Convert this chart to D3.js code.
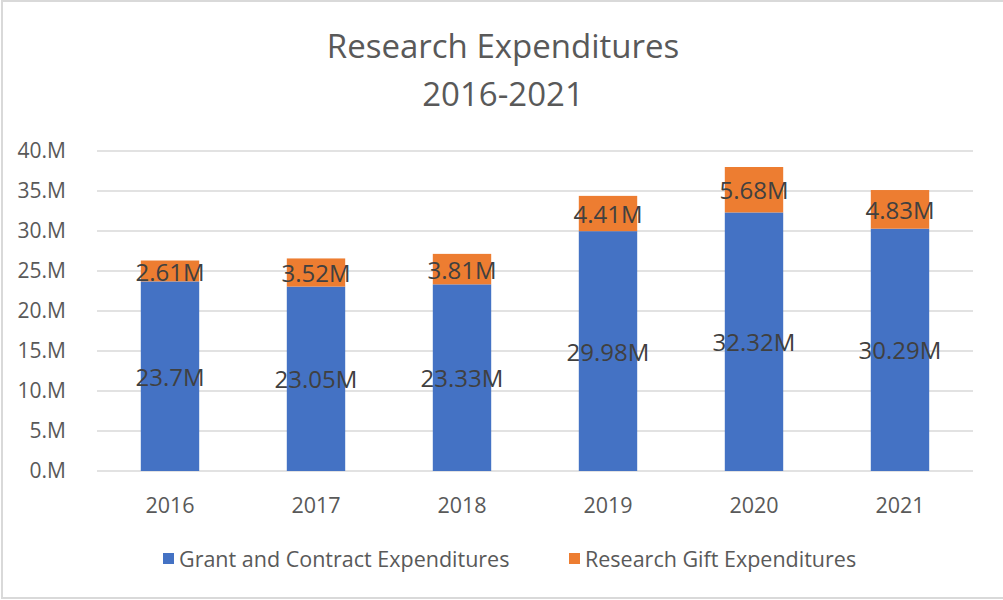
<!DOCTYPE html>
<html>
<head>
<meta charset="utf-8">
<script src="https://cdn.jsdelivr.net/npm/d3@7"></script>
<style>
  body { margin: 0; background: #fff; }
  text { font-family: "Open Sans", sans-serif; }
</style>
</head>
<body>
<div id="chart"></div>
<script>
const years = ['2016', '2017', '2018', '2019', '2020', '2021']
const grant = [23.7, 23.05, 23.33, 29.98, 32.32, 30.29]
const gift = [2.61, 3.52, 3.81, 4.41, 5.68, 4.83]
const yTicks = [0, 5, 10, 15, 20, 25, 30, 35, 40]
const seriesNames = ['Grant and Contract Expenditures', 'Research Gift Expenditures']
const colors = ['#4472C4', '#ED7D31']

const w = 1003
const h = 600
const plot = { left: 97, right: 973, top: 151, bottom: 471 }

const svg = d3.select('#chart').append('svg')
  .attr('width', w)
  .attr('height', h)

// chart frame
svg.append('rect')
  .attr('x', 2).attr('y', 1)
  .attr('width', 1010).attr('height', 597)
  .attr('fill', 'none')
  .attr('stroke', '#d9d9d9')
  .attr('stroke-width', 2)

// title
svg.append('text')
  .attr('x', 503).attr('y', 58)
  .attr('text-anchor', 'middle')
  .attr('fill', '#595959')
  .style('font-size', '33px')
  .text('Research Expenditures')
svg.append('text')
  .attr('x', 503).attr('y', 106)
  .attr('text-anchor', 'middle')
  .attr('fill', '#595959')
  .style('font-size', '33px')
  .text('2016-2021')

const x = d3.scaleBand()
  .domain(years)
  .range([plot.left, plot.right])
  .paddingInner(0.6)
  .paddingOuter(0.3)

const y = d3.scaleLinear()
  .domain([0, 40])
  .range([plot.bottom, plot.top])

// gridlines
svg.append('g')
  .selectAll('line')
  .data(yTicks)
  .enter().append('line')
  .attr('x1', plot.left).attr('x2', plot.right)
  .attr('y1', d => y(d)).attr('y2', d => y(d))
  .attr('stroke', '#d9d9d9')
  .attr('stroke-width', 1.5)

// y axis labels
const yAxis = d3.axisLeft(y)
  .tickValues(yTicks)
  .tickSize(0)
  .tickPadding(31)
  .tickFormat(d => d + '.M')

const gy = svg.append('g')
  .attr('transform', `translate(${plot.left},0)`)
  .call(yAxis)
gy.select('.domain').remove()
gy.selectAll('text')
  .attr('fill', '#595959')
  .style('font-size', '21px')
  .style('font-family', '"Open Sans", sans-serif')

// x axis labels
const xAxis = d3.axisBottom(x).tickSize(0).tickPadding(27)
const gx = svg.append('g')
  .attr('transform', `translate(0,${plot.bottom})`)
  .call(xAxis)
gx.select('.domain').remove()
gx.selectAll('text')
  .attr('fill', '#595959')
  .style('font-size', '21.5px')
  .style('font-family', '"Open Sans", sans-serif')

// stacked bars
const rows = years.map((yr, i) => ({ year: yr, grant: grant[i], gift: gift[i] }))
const stack = d3.stack().keys(['grant', 'gift'])(rows)

const layers = svg.append('g').selectAll('g')
  .data(stack)
  .enter().append('g')
  .attr('fill', (d, i) => colors[i])

layers.selectAll('rect')
  .data(d => d)
  .enter().append('rect')
  .attr('x', d => x(d.data.year))
  .attr('y', d => y(d[1]))
  .attr('width', x.bandwidth())
  .attr('height', d => y(d[0]) - y(d[1]))

// data labels
const labels = svg.append('g').selectAll('g')
  .data(stack)
  .enter().append('g')

labels.selectAll('text')
  .data(d => d.map(s => ({ s: s, key: d.key })))
  .enter().append('text')
  .attr('x', d => x(d.s.data.year) + x.bandwidth() / 2)
  .attr('y', d => y((d.s[0] + d.s[1]) / 2))
  .attr('dy', '0.4em')
  .attr('text-anchor', 'middle')
  .attr('fill', '#404040')
  .style('font-size', '24px')
  .text(d => d.s.data[d.key] + 'M')

// legend
const legend = svg.append('g')
const legendX = [163, 569]
seriesNames.forEach((name, i) => {
  legend.append('rect')
    .attr('x', legendX[i]).attr('y', 553)
    .attr('width', 11).attr('height', 11)
    .attr('fill', colors[i])
  legend.append('text')
    .attr('x', legendX[i] + 16).attr('y', 559)
    .attr('dy', '0.35em')
    .attr('fill', '#595959')
    .style('font-size', '21.5px')
    .text(name)
})
</script>
</body>
</html>
